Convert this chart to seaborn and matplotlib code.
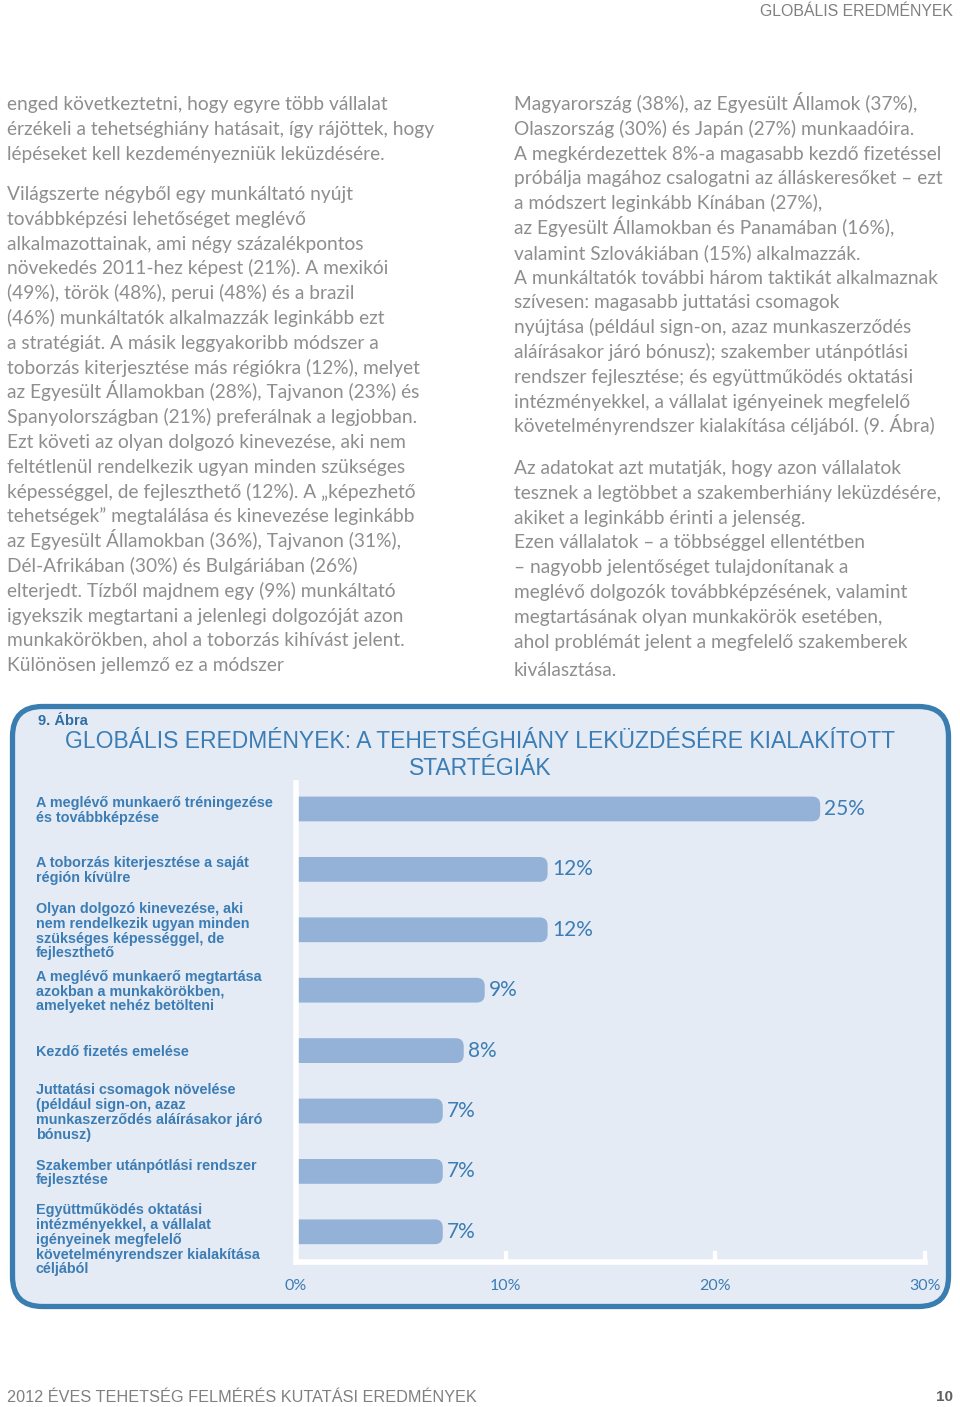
import matplotlib
matplotlib.use("Agg")
import matplotlib.pyplot as plt
import matplotlib.transforms as mtransforms
from matplotlib.patches import FancyBboxPatch
import seaborn as sns
import pandas as pd

# ---------------- data ----------------
categories = [
    "A meglévő munkaerő tréningezése\nés továbbképzése",
    "A toborzás kiterjesztése a saját\nrégión kívülre",
    "Olyan dolgozó kinevezése, aki\nnem rendelkezik ugyan minden\nszükséges képességgel, de\nfejleszthető",
    "A meglévő munkaerő megtartása\nazokban a munkakörökben,\namelyeket nehéz betölteni",
    "Kezdő fizetés emelése",
    "Juttatási csomagok növelése\n(például sign-on, azaz\nmunkaszerződés aláírásakor járó\nbónusz)",
    "Szakember utánpótlási rendszer\nfejlesztése",
    "Együttműködés oktatási\nintézményekkel, a vállalat\nigényeinek megfelelő\nkövetelményrendszer kialakítása\ncéljából",
]
values = [25, 12, 12, 9, 8, 7, 7, 7]
xticks = [0, 10, 20, 30]
xtick_labels = ["0%", "10%", "20%", "30%"]

figure_label = "9. Ábra"
chart_title = "GLOBÁLIS EREDMÉNYEK: A TEHETSÉGHIÁNY LEKÜZDÉSÉRE KIALAKÍTOTT\nSTARTÉGIÁK"
header_text = "GLOBÁLIS EREDMÉNYEK"
footer_text = "2012 ÉVES TEHETSÉG FELMÉRÉS KUTATÁSI EREDMÉNYEK"
page_number = "10"

left_par1 = [
    "enged következtetni, hogy egyre több vállalat",
    "érzékeli a tehetséghiány hatásait, így rájöttek, hogy",
    "lépéseket kell kezdeményezniük leküzdésére.",
]
left_par2 = [
    "Világszerte négyből egy munkáltató nyújt",
    "továbbképzési lehetőséget meglévő",
    "alkalmazottainak, ami négy százalékpontos",
    "növekedés 2011-hez képest (21%). A mexikói",
    "(49%), török (48%), perui (48%) és a brazil",
    "(46%) munkáltatók alkalmazzák leginkább ezt",
    "a stratégiát. A másik leggyakoribb módszer a",
    "toborzás kiterjesztése más régiókra (12%), melyet",
    "az Egyesült Államokban (28%), Tajvanon (23%) és",
    "Spanyolországban (21%) preferálnak a legjobban.",
    "Ezt követi az olyan dolgozó kinevezése, aki nem",
    "feltétlenül rendelkezik ugyan minden szükséges",
    "képességgel, de fejleszthető (12%). A „képezhető",
    "tehetségek” megtalálása és kinevezése leginkább",
    "az Egyesült Államokban (36%), Tajvanon (31%),",
    "Dél-Afrikában (30%) és Bulgáriában (26%)",
    "elterjedt. Tízből majdnem egy (9%) munkáltató",
    "igyekszik megtartani a jelenlegi dolgozóját azon",
    "munkakörökben, ahol a toborzás kihívást jelent.",
    "Különösen jellemző ez a módszer",
]
right_par1 = [
    "Magyarország (38%), az Egyesült Államok (37%),",
    "Olaszország (30%) és Japán (27%) munkaadóira.",
    "A megkérdezettek 8%-a magasabb kezdő fizetéssel",
    "próbálja magához csalogatni az álláskeresőket – ezt",
    "a módszert leginkább Kínában (27%),",
    "az Egyesült Államokban és Panamában (16%),",
    "valamint Szlovákiában (15%) alkalmazzák.",
    "A munkáltatók további három taktikát alkalmaznak",
    "szívesen: magasabb juttatási csomagok",
    "nyújtása (például sign-on, azaz munkaszerződés",
    "aláírásakor járó bónusz); szakember utánpótlási",
    "rendszer fejlesztése; és együttműködés oktatási",
    "intézményekkel, a vállalat igényeinek megfelelő",
    "követelményrendszer kialakítása céljából. (9. Ábra)",
]
right_par2 = [
    "Az adatokat azt mutatják, hogy azon vállalatok",
    "tesznek a legtöbbet a szakemberhiány leküzdésére,",
    "akiket a leginkább érinti a jelenség.",
    "Ezen vállalatok – a többséggel ellentétben",
    "– nagyobb jelentőséget tulajdonítanak a",
    "meglévő dolgozók továbbképzésének, valamint",
    "megtartásának olyan munkakörök esetében,",
    "ahol problémát jelent a megfelelő szakemberek",
    "kiválasztása.",
]

# ---------------- style ----------------
sns.set_theme(style="white")
plt.rcParams["font.family"] = ["Lato", "DejaVu Sans"]

BLUE = "#3b7db4"
BAR = "#94b2d7"
BOX_FILL = "#e5ebf5"
GRAY_TXT = "#8e8e8e"

W, H = 960, 1407
fig = plt.figure(figsize=(W / 100, H / 100), dpi=100)
fig.patch.set_facecolor("white")


def fy(py):
    return 1 - py / H


def fx(px):
    return px / W


# header/footer
fig.text(fx(953), fy(12), header_text, ha="right", va="center", fontsize=11.4,
         color="#808080", family=["Liberation Sans"])
fig.text(fx(7), fy(1397), footer_text, ha="left", va="center", fontsize=11.7,
         color="#808080", family=["Liberation Sans"])
fig.text(fx(953), fy(1397), page_number, ha="right", va="center", fontsize=11,
         color="#606060", fontweight="bold", family=["Liberation Sans"])

# body text
body_kw = dict(ha="left", va="baseline", fontsize=13.8, color=GRAY_TXT, fontweight="normal")
LS = 24.8


def put_lines(lines, x, y0, last_extra=0):
    n = len(lines)
    for k, line in enumerate(lines):
        extra = last_extra if k == n - 1 else 0
        fig.text(fx(x), fy(y0 + k * LS + 7 + extra), line, **body_kw)


put_lines(left_par1, 7, 103)
put_lines(left_par2, 7, 193)
put_lines(right_par1, 514, 103)
put_lines(right_par2, 514, 467, last_extra=4)

# chart box
box = FancyBboxPatch((0.125, H / 100 - 13.065), 9.36, 6.0,
                     boxstyle="round,pad=0,rounding_size=0.3",
                     transform=fig.dpi_scale_trans, facecolor=BOX_FILL,
                     edgecolor="#3a7db1", linewidth=3.8, zorder=-1)
fig.patches.append(box)

fig.text(fx(38), fy(721), figure_label, ha="left", va="center", fontsize=10.5,
         color="#2f6ea3", fontweight="bold", family=["Liberation Sans"])
fig.text(fx(480), fy(755), chart_title, ha="center", va="center", fontsize=16.5,
         color=BLUE, linespacing=1.25, family=["Liberation Sans"])

# axes
ax = fig.add_axes([fx(296), fy(1262), (925 - 296) / W, (1262 - 783) / H])
ax.set_facecolor("none")
ax.set_zorder(1)
df = pd.DataFrame({"category": categories, "value": values})
sns.barplot(data=df, x="value", y="category", orient="h", color=BAR,
            width=0.41, saturation=1, ax=ax, zorder=2)
ax.set_xlim(0, 30)
ax.set_ylim(7.5, -0.43)

# rounded right ends
fig.canvas.draw()
p0 = ax.transData.transform((0, 0))
p1 = ax.transData.transform((1, 1))
ppx = abs(p1[0] - p0[0])
ppy = abs(p1[1] - p0[1])
r_px = 8
r = r_px / ppx
aspect = (r_px / ppy) / r
for p in list(ax.patches):
    x, y, w, h = p.get_x(), p.get_y(), p.get_width(), p.get_height()
    p.remove()
    fb = FancyBboxPatch((x - 2 * r, y), w + 2 * r, h,
                        boxstyle=f"round,pad=0,rounding_size={r}",
                        mutation_aspect=aspect, facecolor=BAR,
                        edgecolor="none", zorder=2)
    ax.add_patch(fb)

# value labels
for i, v in enumerate(values):
    ax.text(v + 0.2, i, f"{v}%", ha="left", va="center", fontsize=15,
            color=BLUE, fontweight="normal")

# category labels
trans = mtransforms.blended_transform_factory(fig.transFigure, ax.transData)
for i, c in enumerate(categories):
    t = trans + mtransforms.ScaledTranslation(0, -1.5 / 100, fig.dpi_scale_trans)
    if c.count("\n") >= 4:
        t = trans + mtransforms.ScaledTranslation(0, -8 / 100, fig.dpi_scale_trans)
    ax.text(fx(36), i, c, transform=t, ha="left", va="center", fontsize=10.4,
            color=BLUE, fontweight="bold", linespacing=1.07,
            family=["Liberation Sans"], clip_on=False)

ax.set_yticks([])
ax.set_ylabel("")
ax.set_xlabel("")
ax.set_xticks(xticks)
ax.set_xticklabels(xtick_labels)
ax.tick_params(axis="x", direction="in", length=8, width=3, color="white",
               pad=12, labelsize=11.5, labelcolor=BLUE, bottom=True)
for s in ["top", "right"]:
    ax.spines[s].set_visible(False)
for s in ["left", "bottom"]:
    ax.spines[s].set_visible(True)
    ax.spines[s].set_color("white")
    ax.spines[s].set_linewidth(4)

fig.savefig("out.png", dpi=100)
